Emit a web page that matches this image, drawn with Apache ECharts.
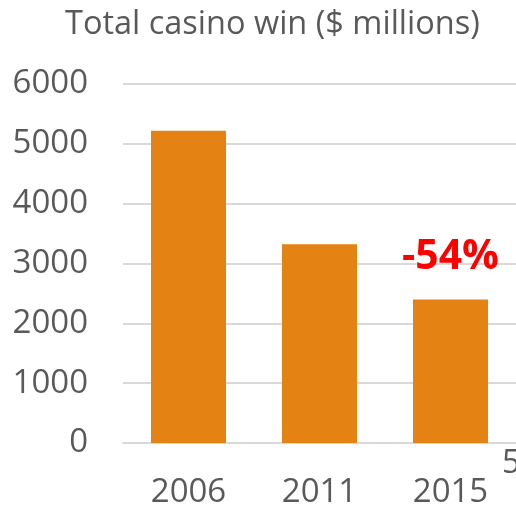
<!DOCTYPE html>
<html>
<head>
<meta charset="utf-8">
<script src="https://cdn.jsdelivr.net/npm/echarts@6/dist/echarts.min.js"></script>
<style>html,body{margin:0;padding:0;background:#fff}#c{width:516px;height:509px}</style>
</head>
<body>
<div id="c"></div>
<script>
const categories = ['2006', '2011', '2015'];
const casinoWin = [5220, 3320, 2400];
const annotations = ['', '', '-54%'];
const yTicks = [0, 1000, 2000, 3000, 4000, 5000, 6000];
const titleText = 'Total casino win ($ millions)';
const cornerText = '5';

const font = '"Open Sans", "Liberation Sans", sans-serif';
const chart = echarts.init(document.getElementById('c'), null, {renderer: 'canvas'});
chart.setOption({
  animation: false,
  title: {
    text: titleText, left: 60, top: 3,
    textStyle: {fontFamily: font, fontSize: 32.5, fontWeight: 'normal', color: '#595959'}
  },
  grid: {left: 123, right: 0, top: 84, bottom: 65},
  xAxis: {
    type: 'category', data: categories,
    axisLine: {lineStyle: {color: '#d9d9d9', width: 2}},
    axisTick: {show: false},
    axisLabel: {fontFamily: font, fontSize: 33, color: '#595959', margin: 33}
  },
  yAxis: {
    type: 'value', min: yTicks[0], max: yTicks[yTicks.length - 1], interval: 1000,
    axisLine: {show: false}, axisTick: {show: false},
    axisLabel: {fontFamily: font, fontSize: 33, color: '#595959', margin: 35, formatter: v => String(v)},
    splitLine: {lineStyle: {color: '#d9d9d9', width: 2}}
  },
  series: [{
    type: 'bar', data: casinoWin, barWidth: 75,
    itemStyle: {color: '#E48213'},
    label: {
      show: true, position: 'top', distance: 22,
      formatter: p => annotations[p.dataIndex],
      fontFamily: font, fontSize: 41, fontWeight: 'bold', color: '#FF0000'
    }
  }],
  graphic: [{
    type: 'text', left: 502, top: 448,
    style: {text: cornerText, fontFamily: font, fontSize: 32, fill: '#595959'}
  }]
});
</script>
</body>
</html>
